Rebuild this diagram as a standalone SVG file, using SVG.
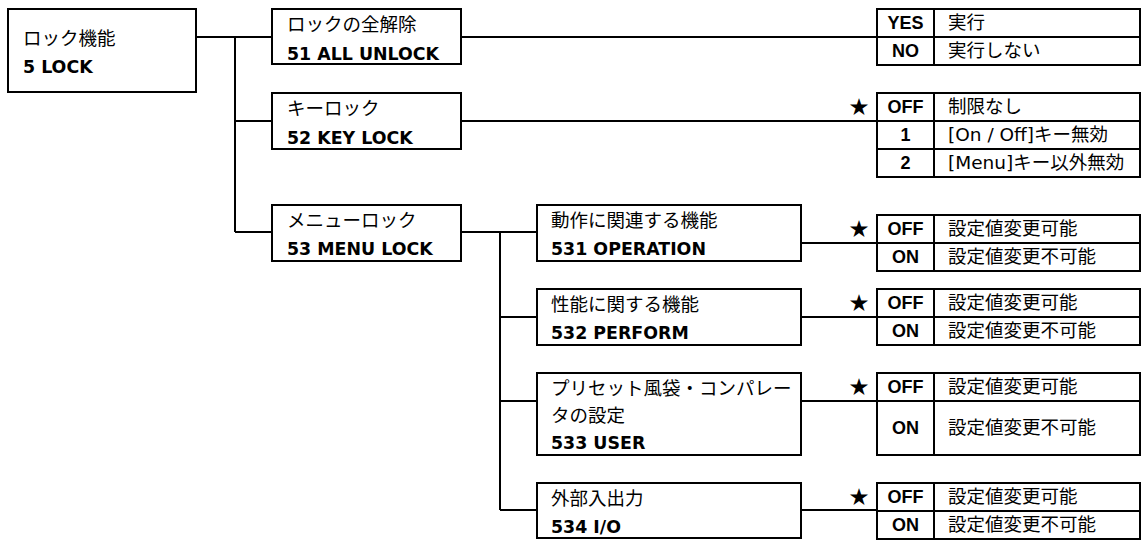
<svg xmlns="http://www.w3.org/2000/svg" width="1142" height="545" viewBox="0 0 1142 545">
<style>
.box{fill:#fff;stroke:#000;stroke-width:2}
.ln{fill:none;stroke:#000;stroke-width:2}
.jp{font-family:"Noto Sans CJK JP","DejaVu Sans",sans-serif;font-size:18.5px;fill:#000}
.mx{font-family:"DejaVu Sans","Noto Sans CJK JP",sans-serif;font-size:18.5px;fill:#000}
.en{font-family:"DejaVu Sans","Liberation Sans",sans-serif;font-size:17.4px;font-weight:bold;fill:#000}
.val{font-family:"Liberation Sans",Arial,sans-serif;font-size:18px;font-weight:bold;fill:#000;text-anchor:middle}
.star{font-family:"Noto Sans CJK JP","DejaVu Sans",sans-serif;font-size:19px;fill:#000;text-anchor:middle}
</style>
<rect width="1142" height="545" fill="#fff"/>
<g id="connectors">
<path class="ln" d="M196 37H272 M235 37V232 M235 121H272 M235 232H272"/>
<path class="ln" d="M461 37H877 M461 121H877"/>
<path class="ln" d="M461 232H537 M500 232V510 M500 317H537 M500 401H537 M500 510H537"/>
<path class="ln" d="M801 243H877 M801 317H877 M801 401H877 M801 510H877"/>
</g>
<g id="n5">
<rect class="box" x="8" y="9" width="188" height="83"/>
<text class="jp" x="23" y="45">ロック機能</text>
<text class="en" x="23" y="73">5 LOCK</text>
</g>
<g id="n51">
<rect class="box" x="272" y="9" width="189" height="55"/>
<text class="jp" x="287" y="31">ロックの全解除</text>
<text class="en" x="287" y="60">51 ALL UNLOCK</text>
</g>
<g id="n52">
<rect class="box" x="272" y="93" width="189" height="56"/>
<text class="jp" x="287" y="115">キーロック</text>
<text class="en" x="287" y="144">52 KEY LOCK</text>
</g>
<g id="n53">
<rect class="box" x="272" y="205" width="189" height="56"/>
<text class="jp" x="287" y="227">メニューロック</text>
<text class="en" x="287" y="255">53 MENU LOCK</text>
</g>
<g id="n531">
<rect class="box" x="537" y="205" width="264" height="56"/>
<text class="jp" x="551" y="227">動作に関連する機能</text>
<text class="en" x="551" y="255">531 OPERATION</text>
</g>
<g id="n532">
<rect class="box" x="537" y="289" width="264" height="56"/>
<text class="jp" x="551" y="311">性能に関する機能</text>
<text class="en" x="551" y="339">532 PERFORM</text>
</g>
<g id="n533">
<rect class="box" x="537" y="373" width="264" height="82"/>
<text class="jp" x="551" y="395">プリセット風袋・コンパレー</text>
<text class="jp" x="551" y="422">タの設定</text>
<text class="en" x="551" y="449">533 USER</text>
</g>
<g id="n534">
<rect class="box" x="537" y="483" width="264" height="55"/>
<text class="jp" x="551" y="505">外部入出力</text>
<text class="en" x="551" y="533">534 I/O</text>
</g>
<g id="t51">
<rect class="box" x="877" y="9" width="263" height="56"/>
<path class="ln" d="M877 37H1140 M934 9V65"/>
<text class="val" x="905.5" y="29">YES</text>
<text class="jp" x="948" y="29">実行</text>
<text class="val" x="905.5" y="57">NO</text>
<text class="jp" x="948" y="57">実行しない</text>
</g>
<g id="t52">
<rect class="box" x="877" y="93" width="263" height="84"/>
<path class="ln" d="M877 121H1140 M877 149H1140 M934 93V177"/>
<text class="star" x="859" y="114">★</text>
<text class="val" x="905.5" y="113">OFF</text>
<text class="jp" x="948" y="113">制限なし</text>
<text class="val" x="905.5" y="141">1</text>
<text class="mx" x="948" y="141">[On / Off]キー無効</text>
<text class="val" x="905.5" y="169">2</text>
<text class="mx" x="948" y="169">[Menu]キー以外無効</text>
</g>
<g id="t531">
<rect class="box" x="877" y="215" width="263" height="56"/>
<path class="ln" d="M877 243H1140 M934 215V271"/>
<text class="star" x="859" y="236">★</text>
<text class="val" x="905.5" y="235">OFF</text>
<text class="jp" x="948" y="235">設定値変更可能</text>
<text class="val" x="905.5" y="263">ON</text>
<text class="jp" x="948" y="263">設定値変更不可能</text>
</g>
<g id="t532">
<rect class="box" x="877" y="289" width="263" height="56"/>
<path class="ln" d="M877 317H1140 M934 289V345"/>
<text class="star" x="859" y="310">★</text>
<text class="val" x="905.5" y="309">OFF</text>
<text class="jp" x="948" y="309">設定値変更可能</text>
<text class="val" x="905.5" y="337">ON</text>
<text class="jp" x="948" y="337">設定値変更不可能</text>
</g>
<g id="t533">
<rect class="box" x="877" y="373" width="263" height="82"/>
<path class="ln" d="M877 401H1140 M934 373V455"/>
<text class="star" x="859" y="394">★</text>
<text class="val" x="905.5" y="393">OFF</text>
<text class="jp" x="948" y="393">設定値変更可能</text>
<text class="val" x="905.5" y="434">ON</text>
<text class="jp" x="948" y="434">設定値変更不可能</text>
</g>
<g id="t534">
<rect class="box" x="877" y="483" width="263" height="56"/>
<path class="ln" d="M877 511H1140 M934 483V539"/>
<text class="star" x="859" y="504">★</text>
<text class="val" x="905.5" y="503">OFF</text>
<text class="jp" x="948" y="503">設定値変更可能</text>
<text class="val" x="905.5" y="531">ON</text>
<text class="jp" x="948" y="531">設定値変更不可能</text>
</g>
</svg>
